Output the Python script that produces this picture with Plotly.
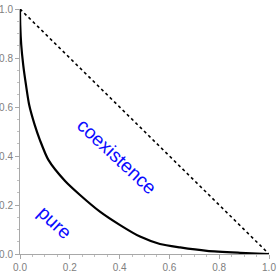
import plotly.graph_objects as go

curve_x = [0.0, 0.001, 0.005, 0.013, 0.024, 0.037, 0.059, 0.08, 0.114, 0.181, 0.241, 0.321, 0.402, 0.482, 0.562, 0.643, 0.751, 0.884, 1.0]
curve_y = [1.0, 0.935, 0.853, 0.771, 0.690, 0.608, 0.527, 0.465, 0.384, 0.298, 0.241, 0.173, 0.118, 0.071, 0.041, 0.027, 0.013, 0.005, 0.0]
diag_x = [0.0, 1.0]
diag_y = [1.0, 0.0]
tick_vals = [0.0, 0.2, 0.4, 0.6, 0.8, 1.0]
labels = ["coexistence", "pure"]
label_x = [0.39, 0.14]
label_y = [0.40, 0.13]

fig = go.Figure()
fig.add_trace(go.Scatter(x=diag_x, y=diag_y, mode="lines",
                         line=dict(color="black", width=1.6, dash="dot"), hoverinfo="skip",
                         cliponaxis=False))
fig.add_trace(go.Scatter(x=curve_x, y=curve_y, mode="lines",
                         line=dict(color="black", width=2.2, shape="spline", smoothing=0.7),
                         hoverinfo="skip", cliponaxis=False))
for t, x, y in zip(labels, label_x, label_y):
    fig.add_annotation(x=x, y=y, text=t, showarrow=False, textangle=43,
                       font=dict(family="Liberation Sans, Arial", size=19, color="#0a0aff"))

axis_common = dict(range=[0, 1], tickvals=tick_vals, tickformat=".1f",
                   showgrid=False, zeroline=False, showline=True, linecolor="#a8a8a8",
                   linewidth=1, ticks="outside", ticklen=4, tickcolor="#a8a8a8",
                   tickfont=dict(family="Liberation Sans, Arial", size=10, color="#808080"),
                   minor=dict(ticks="outside", ticklen=2, tickcolor="#c0c0c0", dtick=0.05),
                   automargin=False, fixedrange=True)
fig.update_layout(
    width=277, height=272,
    margin=dict(l=20, r=8, t=9, b=18),
    paper_bgcolor="white", plot_bgcolor="white",
    showlegend=False,
    xaxis=dict(**axis_common),
    yaxis=dict(**axis_common),
)
fig.write_html("out.html", config={"displayModeBar": False},
               post_script="document.body.style.margin='0';document.body.style.overflow='hidden';")
